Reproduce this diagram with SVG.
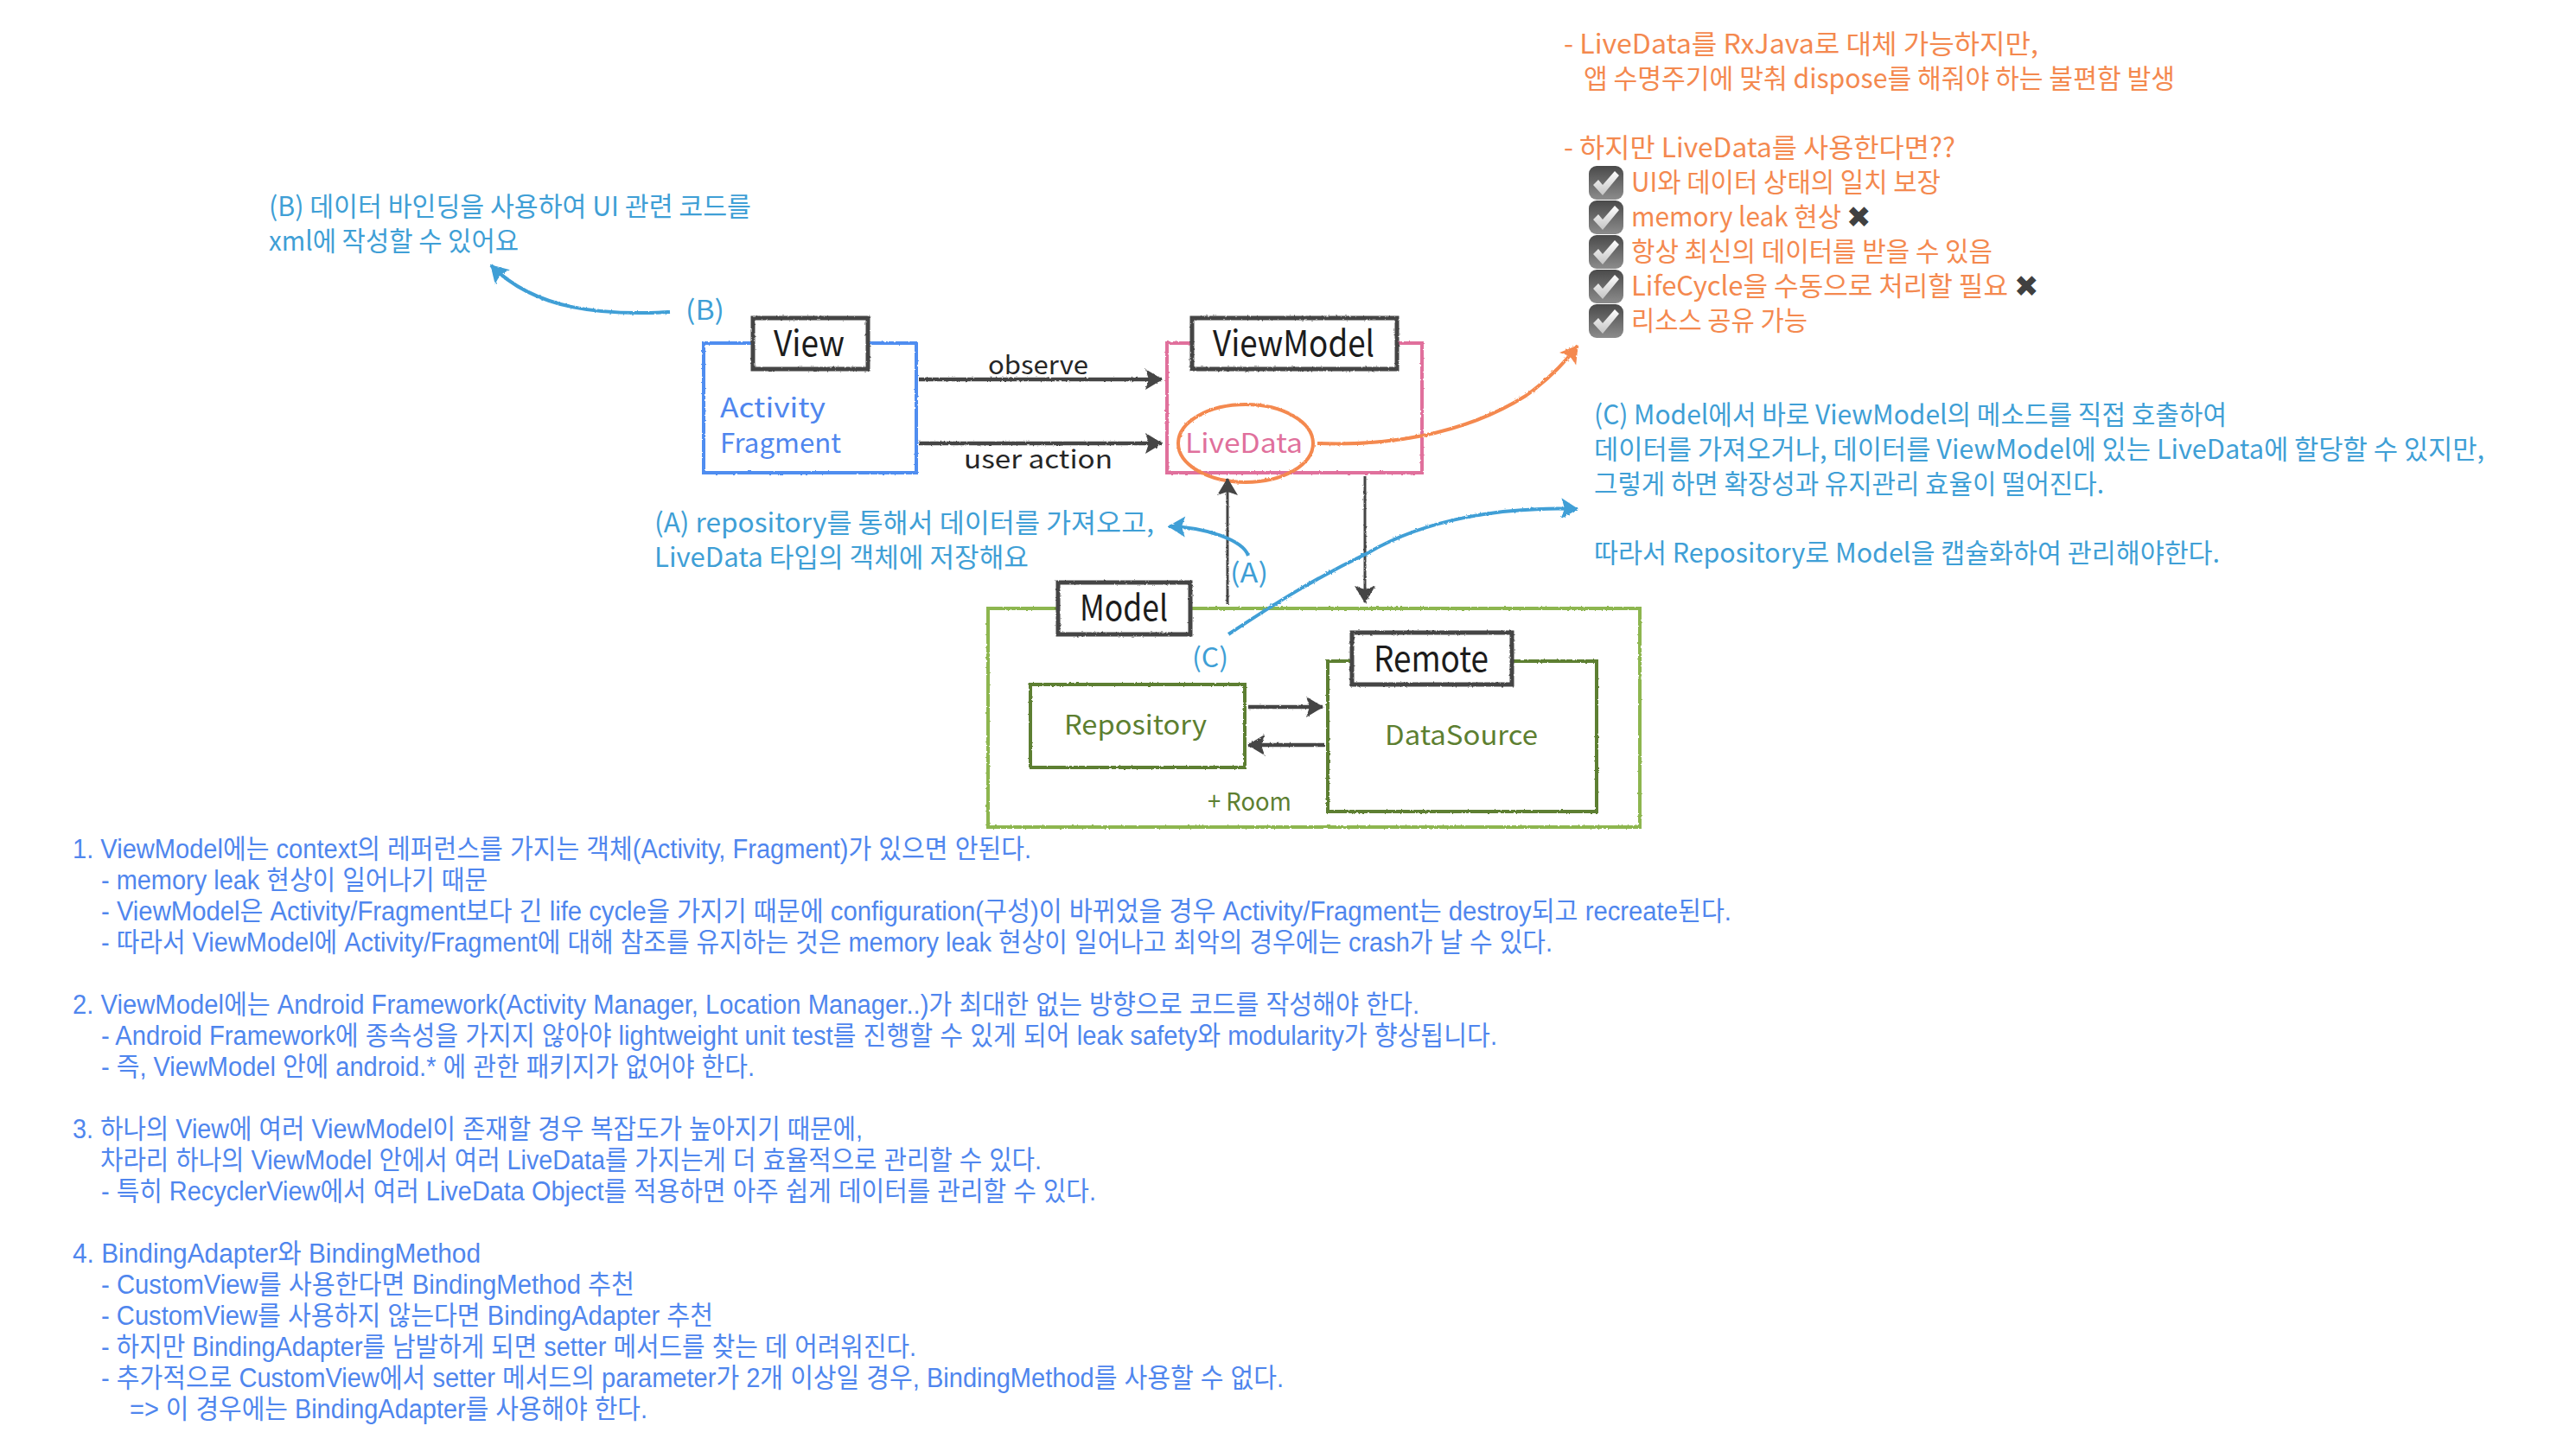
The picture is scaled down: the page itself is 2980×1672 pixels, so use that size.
<svg xmlns="http://www.w3.org/2000/svg" width="2980" height="1672" viewBox="0 0 2980 1672">
<style>
text{font-family:"Noto Sans CJK KR","Noto Sans",sans-serif;font-weight:400}
.h{font-size:31px;fill:#3f9fd6}
.o{font-size:31px;fill:#f4894f}
.n{font-size:31px;fill:#4f86ee;font-family:"Liberation Sans","Noto Sans CJK KR",sans-serif}
.t{font-size:41px;fill:#1c1c1c}
.l{font-size:29px;fill:#262626}
.g{font-size:31px;fill:#5d7f31}
.r{fill:none;filter:url(#rough)}
.lab{fill:#fff;stroke:#444;stroke-width:5;filter:url(#rough)}
.arr{fill:none;stroke:#444;stroke-width:4.5;filter:url(#rough)}
.blue{fill:none;stroke:#3f9fd6;stroke-width:4;filter:url(#rough)}
.or{fill:none;stroke:#f4894f;stroke-width:4;filter:url(#rough)}
.x{font-family:"DejaVu Sans",sans-serif;font-size:34px;fill:#404040}
</style>
<defs>
<filter id="rough" filterUnits="userSpaceOnUse" x="0" y="0" width="2980" height="1672"><feTurbulence type="fractalNoise" baseFrequency="0.35" numOctaves="2" seed="3"/><feDisplacementMap in="SourceGraphic" scale="2.5"/></filter>
<linearGradient id="cb" x1="0" y1="0" x2="0" y2="1"><stop offset="0" stop-color="#4a4a4a"/><stop offset="1" stop-color="#8c8c8c"/></linearGradient>
<linearGradient id="ck" x1="0" y1="0" x2="0" y2="1"><stop offset="0" stop-color="#fff"/><stop offset="1" stop-color="#c4c4c4"/></linearGradient>
<marker id="ad" markerUnits="userSpaceOnUse" markerWidth="22" markerHeight="26" refX="20" refY="13" orient="auto"><path d="M1 1L21 13L1 25L5 13Z" fill="#444"/></marker>
<marker id="ab" markerUnits="userSpaceOnUse" markerWidth="22" markerHeight="26" refX="20" refY="13" orient="auto"><path d="M1 1L21 13L1 25L5 13Z" fill="#3f9fd6"/></marker>
<marker id="ao" markerUnits="userSpaceOnUse" markerWidth="22" markerHeight="26" refX="20" refY="13" orient="auto"><path d="M1 1L21 13L1 25L5 13Z" fill="#f4894f"/></marker>
<g id="cbx"><rect x="0" y="0" width="40" height="39" rx="9" fill="url(#cb)"/><path d="M5 22L11 16L16 22L30 6L35 11L16 34Z" fill="url(#ck)"/></g>
</defs>

<g id="node-view">
<rect class="r" x="814" y="397" width="246" height="150" stroke="#4f8df0" stroke-width="4"/>
<rect class="lab" x="871" y="368" width="133" height="59"/>
<text class="t" x="895" y="412" textLength="82" lengthAdjust="spacingAndGlyphs">View</text>
<text x="833" y="483" class="n" style="font-family:'Noto Sans CJK KR',sans-serif" textLength="122" lengthAdjust="spacingAndGlyphs">Activity</text>
<text x="833" y="524" class="n" style="font-family:'Noto Sans CJK KR',sans-serif" textLength="140" lengthAdjust="spacingAndGlyphs">Fragment</text>
</g>
<g id="node-viewmodel">
<rect class="r" x="1350" y="397" width="295" height="150" stroke="#e0709c" stroke-width="4"/>
<rect class="lab" x="1379" y="368" width="237" height="59"/>
<text class="t" x="1403" y="412" textLength="187" lengthAdjust="spacingAndGlyphs">ViewModel</text>
</g>
<g id="node-livedata">
<ellipse class="r" cx="1441" cy="513" rx="78" ry="45" stroke="#f4894f" stroke-width="4"/>
<text x="1371" y="524" font-size="31" fill="#e0709c" textLength="136" lengthAdjust="spacingAndGlyphs">LiveData</text>
</g>
<g id="node-model">
<rect class="r" x="1143" y="704" width="754" height="253" stroke="#8db650" stroke-width="4"/>
<rect class="lab" x="1224" y="674" width="153" height="60"/>
<text class="t" x="1249" y="718" textLength="102" lengthAdjust="spacingAndGlyphs">Model</text>
<text x="1397" y="938" font-size="29" fill="#5d7f31" textLength="97" lengthAdjust="spacingAndGlyphs">+ Room</text>
</g>
<g id="node-repository">
<rect class="r" x="1192" y="792" width="248" height="96" stroke="#5d7f31" stroke-width="4"/>
<text class="g" x="1231" y="850" textLength="165" lengthAdjust="spacingAndGlyphs">Repository</text>
</g>
<g id="node-remote">
<rect class="r" x="1536" y="765" width="311" height="174" stroke="#5d7f31" stroke-width="4"/>
<rect class="lab" x="1564" y="732" width="185" height="60"/>
<text class="t" x="1589" y="777" textLength="133" lengthAdjust="spacingAndGlyphs">Remote</text>
<text class="g" x="1602" y="862" textLength="177" lengthAdjust="spacingAndGlyphs">DataSource</text>
</g>

<g id="connectors">
<path class="arr" d="M1063 439H1344" marker-end="url(#ad)"/>
<path class="arr" d="M1063 513H1344" marker-end="url(#ad)"/>
<path class="arr" style="stroke-width:3" d="M1420 699V554" marker-end="url(#ad)"/>
<path class="arr" style="stroke-width:3" d="M1579 551V697" marker-end="url(#ad)"/>
<path class="arr" d="M1444 818H1530" marker-end="url(#ad)"/>
<path class="arr" d="M1532 862H1444" marker-end="url(#ad)"/>
<path class="or" d="M1524 513C1600 516 1690 505 1765 458C1790 440 1810 420 1825 400" marker-end="url(#ao)"/>
<path class="blue" d="M1444 643C1438 625 1395 610 1352 609" marker-end="url(#ab)"/>
<path class="blue" d="M1421 734C1480 695 1520 670 1582 640C1650 600 1740 586 1825 589" marker-end="url(#ab)"/>
<path class="blue" d="M775 361C700 365 620 360 568 307" marker-end="url(#ab)"/>
</g>

<g id="connector-labels">
<text class="l" x="1143" y="433" textLength="116" lengthAdjust="spacingAndGlyphs">observe</text>
<text class="l" x="1115" y="542" textLength="172" lengthAdjust="spacingAndGlyphs">user action</text>
<text class="h" x="1423" y="674" textLength="44" lengthAdjust="spacingAndGlyphs">(A)</text>
<text class="h" x="1379" y="772" textLength="42" lengthAdjust="spacingAndGlyphs">(C)</text>
<text class="h" x="793" y="370" textLength="45" lengthAdjust="spacingAndGlyphs">(B)</text>
</g>

<g id="note-a">
<text class="h" x="757" y="616" textLength="578" lengthAdjust="spacingAndGlyphs">(A) repository를 통해서 데이터를 가져오고,</text>
<text class="h" x="757" y="656" textLength="433" lengthAdjust="spacingAndGlyphs">LiveData 타입의 객체에 저장해요</text>
</g>
<g id="note-b">
<text class="h" x="311" y="250" textLength="558" lengthAdjust="spacingAndGlyphs">(B) 데이터 바인딩을 사용하여 UI 관련 코드를</text>
<text class="h" x="311" y="290" textLength="289" lengthAdjust="spacingAndGlyphs">xml에 작성할 수 있어요</text>
</g>
<g id="note-c">
<text class="h" x="1844" y="491" textLength="732" lengthAdjust="spacingAndGlyphs">(C) Model에서 바로 ViewModel의 메소드를 직접 호출하여</text>
<text class="h" x="1844" y="531" textLength="1030" lengthAdjust="spacingAndGlyphs">데이터를 가져오거나, 데이터를 ViewModel에 있는 LiveData에 할당할 수 있지만,</text>
<text class="h" x="1844" y="571" textLength="590" lengthAdjust="spacingAndGlyphs">그렇게 하면 확장성과 유지관리 효율이 떨어진다.</text>
<text class="h" x="1844" y="651" textLength="724" lengthAdjust="spacingAndGlyphs">따라서 Repository로 Model을 캡슐화하여 관리해야한다.</text>
</g>
<g id="note-livedata">
<text class="o" x="1809" y="62" textLength="549" lengthAdjust="spacingAndGlyphs">- LiveData를 RxJava로 대체 가능하지만,</text>
<text class="o" x="1832" y="102" textLength="684" lengthAdjust="spacingAndGlyphs">앱 수명주기에 맞춰 dispose를 해줘야 하는 불편함 발생</text>
<text class="o" x="1809" y="182" textLength="453" lengthAdjust="spacingAndGlyphs">- 하지만 LiveData를 사용한다면??</text>
<use href="#cbx" x="1838" y="192"/><use href="#cbx" x="1838" y="232"/><use href="#cbx" x="1838" y="272"/><use href="#cbx" x="1838" y="312"/><use href="#cbx" x="1838" y="352"/>
<text class="o" x="1887" y="222" textLength="358" lengthAdjust="spacingAndGlyphs">UI와 데이터 상태의 일치 보장</text>
<text class="o" x="1887" y="262" textLength="243" lengthAdjust="spacingAndGlyphs">memory leak 현상</text>
<text class="x" x="2136" y="263">✖</text>
<text class="o" x="1887" y="302" textLength="418" lengthAdjust="spacingAndGlyphs">항상 최신의 데이터를 받을 수 있음</text>
<text class="o" x="1887" y="342" textLength="436" lengthAdjust="spacingAndGlyphs">LifeCycle을 수동으로 처리할 필요</text>
<text class="x" x="2330" y="343">✖</text>
<text class="o" x="1887" y="382" textLength="204" lengthAdjust="spacingAndGlyphs">리소스 공유 가능</text>
</g>
<g id="notes-list">
<text class="n" x="84" y="993" textLength="1109" lengthAdjust="spacingAndGlyphs">1. ViewModel에는 context의 레퍼런스를 가지는 객체(Activity, Fragment)가 있으면 안된다.</text>
<text class="n" x="117" y="1029" textLength="447" lengthAdjust="spacingAndGlyphs">- memory leak 현상이 일어나기 때문</text>
<text class="n" x="117" y="1065" textLength="1886" lengthAdjust="spacingAndGlyphs">- ViewModel은 Activity/Fragment보다 긴 life cycle을 가지기 때문에 configuration(구성)이 바뀌었을 경우 Activity/Fragment는 destroy되고 recreate된다.</text>
<text class="n" x="117" y="1101" textLength="1679" lengthAdjust="spacingAndGlyphs">- 따라서 ViewModel에 Activity/Fragment에 대해 참조를 유지하는 것은 memory leak 현상이 일어나고 최악의 경우에는 crash가 날 수 있다.</text>
<text class="n" x="84" y="1173" textLength="1558" lengthAdjust="spacingAndGlyphs">2. ViewModel에는 Android Framework(Activity Manager, Location Manager..)가 최대한 없는 방향으로 코드를 작성해야 한다.</text>
<text class="n" x="117" y="1209" textLength="1615" lengthAdjust="spacingAndGlyphs">- Android Framework에 종속성을 가지지 않아야 lightweight unit test를 진행할 수 있게 되어 leak safety와 modularity가 향상됩니다.</text>
<text class="n" x="117" y="1245" textLength="756" lengthAdjust="spacingAndGlyphs">- 즉, ViewModel 안에 android.* 에 관한 패키지가 없어야 한다.</text>
<text class="n" x="84" y="1317" textLength="914" lengthAdjust="spacingAndGlyphs">3. 하나의 View에 여러 ViewModel이 존재할 경우 복잡도가 높아지기 때문에,</text>
<text class="n" x="116" y="1353" textLength="1089" lengthAdjust="spacingAndGlyphs">차라리 하나의 ViewModel 안에서 여러 LiveData를 가지는게 더 효율적으로 관리할 수 있다.</text>
<text class="n" x="117" y="1389" textLength="1151" lengthAdjust="spacingAndGlyphs">- 특히 RecyclerView에서 여러 LiveData Object를 적용하면 아주 쉽게 데이터를 관리할 수 있다.</text>
<text class="n" x="84" y="1461" textLength="472" lengthAdjust="spacingAndGlyphs">4. BindingAdapter와 BindingMethod</text>
<text class="n" x="117" y="1497" textLength="617" lengthAdjust="spacingAndGlyphs">- CustomView를 사용한다면 BindingMethod 추천</text>
<text class="n" x="117" y="1533" textLength="708" lengthAdjust="spacingAndGlyphs">- CustomView를 사용하지 않는다면 BindingAdapter 추천</text>
<text class="n" x="117" y="1569" textLength="943" lengthAdjust="spacingAndGlyphs">- 하지만 BindingAdapter를 남발하게 되면 setter 메서드를 찾는 데 어려워진다.</text>
<text class="n" x="117" y="1605" textLength="1368" lengthAdjust="spacingAndGlyphs">- 추가적으로 CustomView에서 setter 메서드의 parameter가 2개 이상일 경우, BindingMethod를 사용할 수 없다.</text>
<text class="n" x="150" y="1641" textLength="599" lengthAdjust="spacingAndGlyphs">=&gt; 이 경우에는 BindingAdapter를 사용해야 한다.</text>
</g>
</svg>
